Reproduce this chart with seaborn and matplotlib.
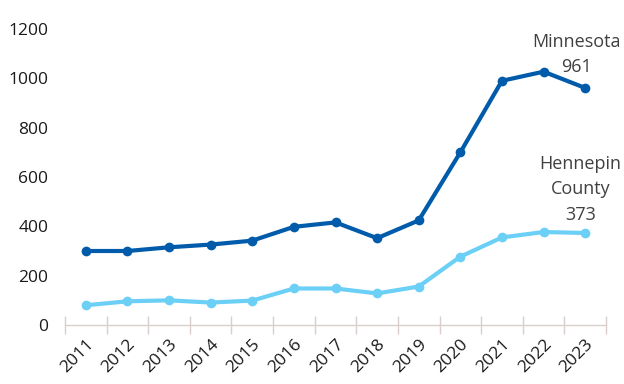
import matplotlib
matplotlib.use("Agg")
import matplotlib.pyplot as plt
import seaborn as sns
import pandas as pd
import numpy as np
from matplotlib.ticker import FixedLocator

years = ["2011", "2012", "2013", "2014", "2015", "2016", "2017", "2018", "2019", "2020", "2021", "2022", "2023"]
minnesota = [300, 300, 315, 326, 342, 398, 416, 352, 424, 700, 990, 1027, 961]
hennepin = [80, 96, 100, 91, 99, 148, 148, 128, 156, 277, 355, 377, 373]

sns.set_theme(style="white")
plt.rcParams['font.family'] = ['Open Sans', 'DejaVu Sans']

df = pd.DataFrame({
    "idx": list(range(len(years))) * 2,
    "value": minnesota + hennepin,
    "series": ["Minnesota"] * len(years) + ["Hennepin County"] * len(years),
})

fig = plt.figure(figsize=(6.24, 3.84), dpi=100)
ax = fig.add_axes([65/624, 1 - 325/384, (606-65)/624, (325-29)/384])

palette = {"Minnesota": "#005BAA", "Hennepin County": "#6CCFF6"}
sns.lineplot(data=df, x="idx", y="value", hue="series", palette=palette,
             linewidth=3, marker="o", markersize=7, markeredgewidth=0,
             legend=False, ax=ax)

ax.set_xlim(-0.5, len(years) - 0.5)
ax.set_ylim(0, 1200)
ax.set_yticks(range(0, 1201, 200))
ax.set_yticklabels([str(v) for v in range(0, 1201, 200)], fontsize=12.5, color="#1a1a1a")
ax.set_xticks(range(len(years)))
ax.set_xticklabels(years, rotation=45, ha="right", rotation_mode="anchor",
                   fontsize=12.5, color="#1a1a1a")
ax.xaxis.set_minor_locator(FixedLocator(np.arange(-0.5, len(years), 1.0)))
ax.tick_params(axis="x", which="major", length=0, pad=8, bottom=True)
ax.tick_params(axis="x", which="minor", length=13, direction="inout",
               color="#D9CFCB", width=1, bottom=True)
ax.tick_params(axis="y", length=0, pad=12)
ax.set_xlabel("")
ax.set_ylabel("")
for s in ["top", "right", "left"]:
    ax.spines[s].set_visible(False)
ax.spines["bottom"].set_color("#D9CFCB")
ax.spines["bottom"].set_linewidth(1)

ax.annotate(f"Minnesota\n{minnesota[-1]}", xy=(len(years) - 1, minnesota[-1]),
            xytext=(-6.5, 24), textcoords="offset points", ha="center", va="center",
            fontsize=13, color="#404040", linespacing=1.55)
ax.annotate(f"Hennepin\nCounty\n{hennepin[-1]}", xy=(len(years) - 1, hennepin[-1]),
            xytext=(-3.6, 31.5), textcoords="offset points", ha="center", va="center",
            fontsize=13, color="#404040", linespacing=1.55)

fig.savefig("out.png", dpi=100)
